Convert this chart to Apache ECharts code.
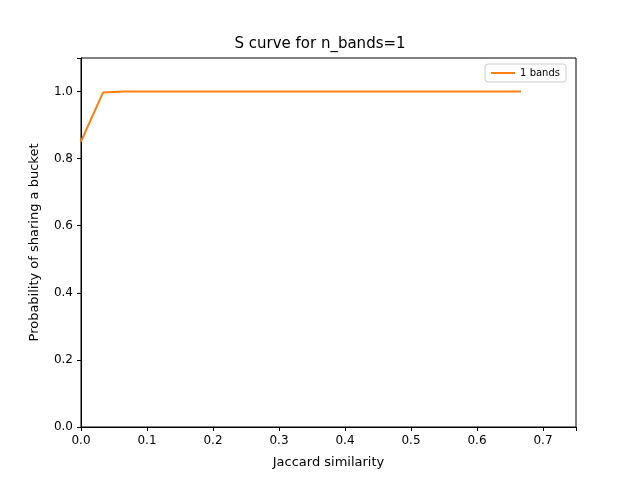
<!DOCTYPE html>
<html><head><meta charset="utf-8">
<script src="https://cdn.jsdelivr.net/npm/echarts@6/dist/echarts.min.js"></script>
<style>html,body{margin:0;padding:0;background:#fff}#c{width:640px;height:480px}</style>
</head><body><div id="c"></div>
<script>
const xValues = [0, 1/30, 2/30, 3/30, 4/30, 5/30, 6/30, 7/30, 8/30, 9/30, 10/30, 11/30, 12/30, 13/30, 14/30, 15/30, 16/30, 17/30, 18/30, 19/30, 20/30];
const yValues = [0.851, 0.997, 0.9999, 1, 1, 1, 1, 1, 1, 1, 1, 1, 1, 1, 1, 1, 1, 1, 1, 1, 1];
const seriesName = '1 bands';
const font = 'DejaVu Sans';
const chart = echarts.init(document.getElementById('c'));
chart.setOption({
  animation: false,
  title: {text: 'S curve for n_bands=1', left: 'center', top: 32, textStyle: {fontFamily: font, fontSize: 15, fontWeight: 'normal', color: '#000'}},
  legend: {right: 74, top: 64, itemWidth: 24, itemHeight: 2, icon: 'rect', data: [seriesName],
    textStyle: {fontFamily: font, fontSize: 10, color: '#000'}, borderColor: '#ccc', borderWidth: 1, borderRadius: 3, padding: [4, 6]},
  grid: {left: 81, right: 64, top: 58, bottom: 53},
  xAxis: {type: 'value', min: 0, max: 0.75, interval: 0.1, name: 'Jaccard similarity', nameLocation: 'middle', nameGap: 29,
    nameTextStyle: {fontFamily: font, fontSize: 13, color: '#000'},
    axisLine: {onZero: false, lineStyle: {color: '#000'}}, axisTick: {length: 4, lineStyle: {color: '#000'}},
    axisLabel: {fontFamily: font, fontSize: 12, color: '#000', formatter: v => v > 0.72 ? '' : v.toFixed(1)}, splitLine: {show: false}},
  yAxis: {type: 'value', min: 0, max: 1.1, interval: 0.2, name: 'Probability of sharing a bucket', nameLocation: 'middle', nameGap: 40,
    nameTextStyle: {fontFamily: font, fontSize: 13, color: '#000'},
    axisLine: {show: true, lineStyle: {color: '#000'}}, axisTick: {show: true, length: 4, lineStyle: {color: '#000'}},
    axisLabel: {fontFamily: font, fontSize: 12, color: '#000', formatter: v => v > 1.05 ? '' : v.toFixed(1)}, splitLine: {show: false}},
  series: [{name: seriesName, type: 'line', data: xValues.map((x, i) => [x, yValues[i]]), showSymbol: false,
    lineStyle: {color: '#ff7f0e', width: 2}, itemStyle: {color: '#ff7f0e'}}]
});
chart.getZr().add(new echarts.graphic.Rect({shape: {x: 81, y: 58, width: 495, height: 369}, style: {fill: 'none', stroke: '#000', lineWidth: 1}, silent: true}));
</script></body></html>
